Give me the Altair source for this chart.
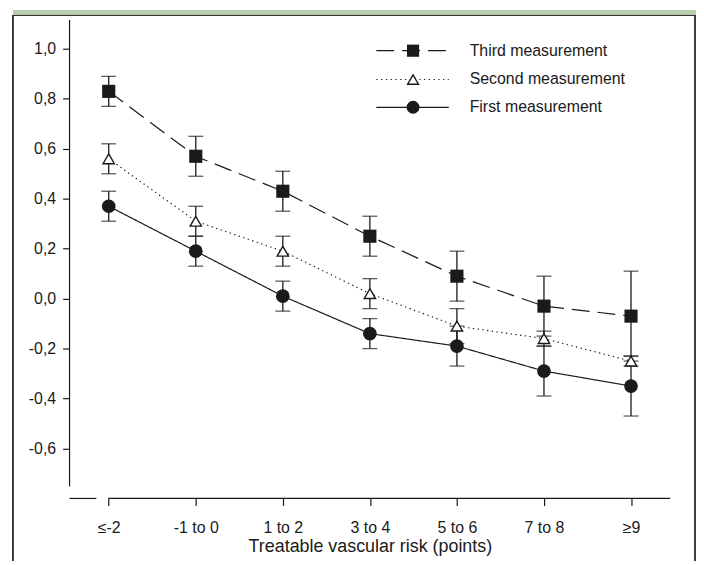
import altair as alt
import pandas as pd

categories = ["≤-2", "-1 to 0", "1 to 2", "3 to 4", "5 to 6", "7 to 8", "≥9"]
series_names = ["Third measurement", "Second measurement", "First measurement"]

third_mean = [0.83, 0.57, 0.43, 0.25, 0.09, -0.03, -0.07]
third_lo = [0.77, 0.49, 0.35, 0.17, -0.01, -0.15, -0.25]
third_hi = [0.89, 0.65, 0.51, 0.33, 0.19, 0.09, 0.11]

second_mean = [0.56, 0.31, 0.19, 0.02, -0.11, -0.16, -0.25]
second_lo = [0.50, 0.25, 0.13, -0.04, -0.18, -0.19, -0.27]
second_hi = [0.62, 0.37, 0.25, 0.08, -0.04, -0.13, -0.23]

first_mean = [0.37, 0.19, 0.01, -0.14, -0.19, -0.29, -0.35]
first_lo = [0.31, 0.13, -0.05, -0.20, -0.27, -0.39, -0.47]
first_hi = [0.43, 0.25, 0.07, -0.08, -0.11, -0.19, -0.23]

y_ticks = [-0.6, -0.4, -0.2, 0.0, 0.2, 0.4, 0.6, 0.8, 1.0]

rows = []
for name, m, lo, hi in [
    (series_names[0], third_mean, third_lo, third_hi),
    (series_names[1], second_mean, second_lo, second_hi),
    (series_names[2], first_mean, first_lo, first_hi),
]:
    for c, a, b, d in zip(categories, m, lo, hi):
        rows.append({"cat": c, "series": name, "mean": a, "lo": b, "hi": d})
df = pd.DataFrame(rows)
one = pd.DataFrame({"k": [0]})

FONT = "Liberation Sans"
INK = "#1a1a1a"
W, H = 605, 482

x_scale = alt.Scale(type="point", padding=0.45, domain=categories)
x_axis = alt.Axis(
    title="Treatable vascular risk (points)",
    labelAngle=0,
    tickSize=7,
    labelPadding=14,
    titlePadding=2,
    domain=False,
)
X = alt.X("cat:N", sort=categories, scale=x_scale, axis=x_axis)

y_scale = alt.Scale(domain=[-0.80, 1.116], nice=False, zero=False)
y_axis = alt.Axis(
    title=None,
    values=y_ticks,
    tickSize=7,
    labelPadding=7,
    labelExpr="(datum.value < -0.001 ? '-' : '') + replace(format(abs(datum.value), '.1f'), '.', ',')",
    domain=False,
)

base = alt.Chart(df)

bars = base.mark_rule(color=INK, strokeWidth=1.3).encode(
    x=X, y=alt.Y("lo:Q", scale=y_scale, axis=y_axis), y2="hi:Q"
)
caps_lo = base.mark_tick(color=INK, thickness=1.3, size=15, orient="horizontal").encode(
    x=X, y=alt.Y("lo:Q", scale=y_scale, axis=y_axis)
)
caps_hi = base.mark_tick(color=INK, thickness=1.3, size=15, orient="horizontal").encode(
    x=X, y=alt.Y("hi:Q", scale=y_scale, axis=y_axis)
)

dashes = {series_names[0]: [18, 8], series_names[1]: [1.3, 3.5], series_names[2]: [1, 0]}
lines = []
for name in series_names:
    lines.append(
        base.transform_filter(alt.datum.series == name)
        .mark_line(color=INK, strokeWidth=1.2, strokeDash=dashes[name])
        .encode(x=X, y=alt.Y("mean:Q", scale=y_scale, axis=y_axis))
    )

sq = base.transform_filter(alt.datum.series == series_names[0]).mark_point(
    shape="square", filled=True, color=INK, size=175, opacity=1
).encode(x=X, y=alt.Y("mean:Q", scale=y_scale, axis=y_axis))
tri = base.transform_filter(alt.datum.series == series_names[1]).mark_point(
    shape="triangle-up", filled=True, fill="white", stroke=INK, strokeWidth=1.4, size=130, opacity=1
).encode(x=X, y=alt.Y("mean:Q", scale=y_scale, axis=y_axis))
circ = base.transform_filter(alt.datum.series == series_names[2]).mark_point(
    shape="circle", filled=True, color=INK, size=190, opacity=1
).encode(x=X, y=alt.Y("mean:Q", scale=y_scale, axis=y_axis))

# broken axis lines (SigmaPlot style)
axis_lines = [
    alt.Chart(one).mark_rule(color=INK, strokeWidth=1.2).encode(
        x=alt.value(0), y=alt.value(0), y2=alt.value(H - 12)
    ),
    alt.Chart(one).mark_rule(color=INK, strokeWidth=1.2).encode(
        x=alt.value(0), x2=alt.value(27), y=alt.value(H)
    ),
    alt.Chart(one).mark_rule(color=INK, strokeWidth=1.2).encode(
        x=alt.value(39), x2=alt.value(W), y=alt.value(H)
    ),
]

# custom legend
leg_rows = [31, 60, 88]
leg = []
marker_specs = [
    dict(shape="square", filled=True, color=INK, size=150, opacity=1),
    dict(shape="triangle-up", filled=True, fill="white", stroke=INK, strokeWidth=1.4, size=120, opacity=1),
    dict(shape="circle", filled=True, color=INK, size=170, opacity=1),
]
for i, name in enumerate(series_names):
    yv = leg_rows[i]
    leg.append(
        alt.Chart(one).mark_rule(color=INK, strokeWidth=1.2, strokeDash=dashes[name]).encode(
            x=alt.value(309), x2=alt.value(382), y=alt.value(yv)
        )
    )
    leg.append(
        alt.Chart(one).mark_point(**marker_specs[i]).encode(x=alt.value(346), y=alt.value(yv))
    )
    leg.append(
        alt.Chart(one).mark_text(
            text=name, align="left", baseline="middle", font=FONT, fontSize=16, color=INK
        ).encode(x=alt.value(403), y=alt.value(yv))
    )

# frame decoration
green = alt.Chart(one).mark_rect(color="#b7ceae").encode(
    x=alt.value(-57), x2=alt.value(631), y=alt.value(-10), y2=alt.value(-5)
)
top_line = alt.Chart(one).mark_rule(color="#2a2a2a", strokeWidth=1).encode(
    x=alt.value(-57), x2=alt.value(631), y=alt.value(-4.5)
)
left_line = alt.Chart(one).mark_rule(color="#2a2a2a", strokeWidth=1.8).encode(
    x=alt.value(-57), y=alt.value(-5), y2=alt.value(H + 70)
)
right_line = alt.Chart(one).mark_rule(color="#2a2a2a", strokeWidth=1.8).encode(
    x=alt.value(630), y=alt.value(-5), y2=alt.value(H + 70)
)

chart = (
    alt.layer(bars, caps_lo, caps_hi, *lines, sq, tri, circ, *axis_lines,
              green, top_line, left_line, right_line, *leg)
    .properties(
        width=W,
        height=H,
        padding={"left": 62, "top": 10, "right": 26, "bottom": 61},
        autosize=alt.AutoSizeParams(type="none"),
        background="white",
    )
    .configure_view(stroke=None)
    .configure_axis(
        labelFont=FONT,
        titleFont=FONT,
        labelFontSize=16,
        titleFontSize=18,
        titleFontWeight="normal",
        labelColor=INK,
        titleColor=INK,
        tickColor=INK,
        tickWidth=1.2,
        grid=False,
    )
)

chart.save("out.html", embed_options={"renderer": "svg", "actions": False})
